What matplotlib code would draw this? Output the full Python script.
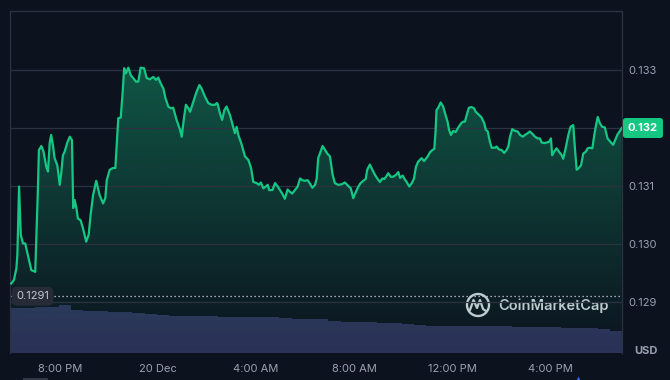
import numpy as np
import matplotlib
matplotlib.use("Agg")
import matplotlib.pyplot as plt
import matplotlib.transforms as mtransforms
from matplotlib.patches import Circle

plt.rcParams['font.family'] = ['Inter', 'DejaVu Sans']

# price trace, time in hours from 19 Dec 00:00
times = [18.01, 18.12, 18.22, 18.26, 18.33, 18.40, 18.49, 18.58, 18.69, 18.83, 18.99, 19.10, 19.14, 19.24, 19.33,
         19.44, 19.51, 19.58, 19.64, 19.71, 19.78, 19.89, 19.99, 20.05, 20.12, 20.19, 20.30, 20.40, 20.49, 20.54,
         20.60, 20.67, 20.73, 20.84, 20.94, 21.07, 21.17, 21.25, 21.35, 21.48, 21.62, 21.76, 21.85, 21.91, 22.03,
         22.16, 22.26, 22.29, 22.38, 22.48, 22.56, 22.62, 22.69, 22.79, 22.89, 22.99, 23.10, 23.20, 23.29, 23.43,
         23.54, 23.67, 23.81, 23.92, 24.01, 24.11, 24.22, 24.31, 24.42, 24.52, 24.62, 24.76, 24.90, 24.97, 25.06,
         25.14, 25.24, 25.31, 25.44, 25.58, 25.69, 25.78, 25.92, 26.05, 26.19, 26.33, 26.40, 26.44, 26.53, 26.62,
         26.71, 26.80, 26.94, 27.03, 27.14, 27.21, 27.28, 27.42, 27.55, 27.69, 27.80, 27.89, 28.03, 28.12, 28.20,
         28.30, 28.40, 28.48, 28.54, 28.67, 28.78, 28.89, 28.98, 29.07, 29.18, 29.29, 29.39, 29.48, 29.59, 29.70,
         29.80, 29.89, 30.00, 30.11, 30.19, 30.30, 30.41, 30.48, 30.54, 30.72, 30.82, 30.91, 31.02, 31.13, 31.22,
         31.36, 31.50, 31.63, 31.77, 31.87, 31.97, 32.08, 32.18, 32.27, 32.38, 32.48, 32.54, 32.65, 32.75, 32.86,
         32.95, 33.06, 33.16, 33.24, 33.31, 33.40, 33.50, 33.60, 33.71, 33.81, 33.88, 33.99, 34.05, 34.15, 34.26,
         34.36, 34.45, 34.53, 34.62, 34.76, 34.86, 35.01, 35.10, 35.20, 35.28, 35.33, 35.37, 35.44, 35.54, 35.64,
         35.74, 35.82, 35.88, 35.96, 36.05, 36.15, 36.26, 36.37, 36.46, 36.53, 36.60, 36.69, 36.80, 36.90, 36.97,
         37.07, 37.21, 37.32, 37.38, 37.46, 37.55, 37.62, 37.76, 37.82, 37.92, 38.03, 38.13, 38.23, 38.30, 38.37,
         38.46, 38.57, 38.68, 38.78, 38.89, 38.98, 39.09, 39.18, 39.28, 39.39, 39.50, 39.59, 39.66, 39.77, 39.87,
         39.96, 40.04, 40.09, 40.17, 40.27, 40.37, 40.48, 40.54, 40.64, 40.75, 40.84, 40.95, 41.02, 41.09, 41.18,
         41.27, 41.36, 41.46, 41.54, 41.63, 41.73, 41.81, 41.88, 41.95, 42.04, 42.13, 42.24, 42.35, 42.49, 42.58,
         42.65, 42.76, 42.86, 42.93]

prices = [0.12932, 0.12938, 0.12958, 0.12981, 0.13099, 0.13016, 0.13001, 0.13001, 0.12981, 0.12955, 0.12952,
          0.13097, 0.13162, 0.13169, 0.13159, 0.13133, 0.13125, 0.13174, 0.13188, 0.13171, 0.13148, 0.13136,
          0.13102, 0.13122, 0.13153, 0.13159, 0.13175, 0.13185, 0.13179, 0.13062, 0.13076, 0.13062, 0.13044,
          0.13041, 0.13027, 0.13004, 0.13016, 0.13050, 0.13084, 0.13109, 0.13084, 0.13070, 0.13079, 0.13110,
          0.13128, 0.13131, 0.13131, 0.13153, 0.13217, 0.13218, 0.13263, 0.13303, 0.13294, 0.13304, 0.13291,
          0.13286, 0.13280, 0.13280, 0.13304, 0.13303, 0.13286, 0.13284, 0.13288, 0.13283, 0.13287, 0.13277,
          0.13268, 0.13251, 0.13237, 0.13234, 0.13235, 0.13214, 0.13197, 0.13185, 0.13217, 0.13240, 0.13234,
          0.13228, 0.13245, 0.13263, 0.13274, 0.13268, 0.13254, 0.13243, 0.13240, 0.13240, 0.13243, 0.13241,
          0.13225, 0.13214, 0.13231, 0.13237, 0.13222, 0.13208, 0.13191, 0.13202, 0.13188, 0.13171, 0.13151,
          0.13145, 0.13131, 0.13107, 0.13105, 0.13102, 0.13106, 0.13096, 0.13099, 0.13102, 0.13093, 0.13093,
          0.13105, 0.13099, 0.13093, 0.13087, 0.13078, 0.13094, 0.13090, 0.13087, 0.13093, 0.13099, 0.13113,
          0.13110, 0.13109, 0.13110, 0.13105, 0.13097, 0.13102, 0.13113, 0.13148, 0.13169, 0.13162, 0.13156,
          0.13151, 0.13119, 0.13105, 0.13102, 0.13103, 0.13106, 0.13100, 0.13096, 0.13079, 0.13090, 0.13099,
          0.13105, 0.13109, 0.13112, 0.13128, 0.13137, 0.13128, 0.13119, 0.13113, 0.13107, 0.13113, 0.13112,
          0.13116, 0.13122, 0.13116, 0.13116, 0.13119, 0.13124, 0.13114, 0.13118, 0.13113, 0.13107, 0.13099,
          0.13105, 0.13113, 0.13133, 0.13142, 0.13148, 0.13143, 0.13151, 0.13158, 0.13162, 0.13164, 0.13194,
          0.13231, 0.13235, 0.13244, 0.13237, 0.13222, 0.13211, 0.13197, 0.13188, 0.13195, 0.13193, 0.13201,
          0.13208, 0.13211, 0.13211, 0.13222, 0.13235, 0.13236, 0.13234, 0.13228, 0.13224, 0.13218, 0.13208,
          0.13197, 0.13194, 0.13176, 0.13166, 0.13166, 0.13168, 0.13163, 0.13162, 0.13157, 0.13162, 0.13168,
          0.13185, 0.13198, 0.13195, 0.13194, 0.13188, 0.13185, 0.13188, 0.13191, 0.13194, 0.13190, 0.13185,
          0.13182, 0.13182, 0.13175, 0.13174, 0.13175, 0.13176, 0.13182, 0.13153, 0.13159, 0.13165, 0.13159,
          0.13153, 0.13147, 0.13165, 0.13188, 0.13202, 0.13205, 0.13165, 0.13128, 0.13131, 0.13136, 0.13156,
          0.13159, 0.13165, 0.13166, 0.13165, 0.13188, 0.13205, 0.13219, 0.13208, 0.13202, 0.13201, 0.13182,
          0.13175, 0.13171, 0.13178, 0.13189, 0.13195, 0.13200]

# volume bars, one per half hour (relative units)
volume = [45.6, 45.8, 46.0, 46.5, 48.0, 43.2, 42.8, 42.4, 41.8, 41.0, 40.0, 39.2, 38.4, 37.6, 37.5, 37.3, 37.0,
          36.8, 36.4, 36.3, 36.3, 36.2, 35.2, 34.8, 34.3, 34.0, 32.6, 31.8, 31.4, 31.0, 30.6, 30.2, 29.4, 28.2,
          27.6, 27.5, 27.4, 27.3, 27.2, 27.1, 27.0, 26.8, 26.6, 26.3, 26.0, 25.7, 25.5, 25.2, 24.0, 22.2]

tick_hours = [20, 24, 28, 32, 36, 40]
tick_labels = ['8:00 PM', '20 Dec', '4:00 AM', '8:00 AM', '12:00 PM', '4:00 PM']
price_ticks = [0.129, 0.130, 0.131, 0.132, 0.133]
open_price = 0.1291
last_price = 0.132

BG = '#0c131f'
GRID = '#2c3240'
GREEN = '#16c784'
TXT = '#9ba1b2'

fig = plt.figure(figsize=(6.7, 3.8), dpi=100, facecolor=BG)
ax = fig.add_axes([0.01493, 0.07026, 0.9134, 0.90079])
ax2 = ax.twinx()
ax.set_zorder(ax2.get_zorder() + 1)
ax.patch.set_visible(False)
ax2.patch.set_visible(False)

x0, x1 = 17.96, 42.94
y0, y1 = 0.128116, 0.134017
ax.set_xlim(x0, x1)
ax.set_ylim(y0, y1)

# volume
vol_start = x0 + 0.5 * np.arange(len(volume))
ax2.bar(vol_start, volume, width=0.5, align='edge', color='#2b3157', linewidth=0)
ax2.set_ylim(0, 342.3)
ax2.set_yticks([])
for s in ax2.spines.values():
    s.set_visible(False)

# gradient under line
poly = ax.fill_between(times, prices, y0, color='none', lw=0)
path = poly.get_paths()[0]
n = 256
ys = np.linspace(y0, y1, n)
alpha = np.clip(0.37 * (ys - 0.1281) / (0.133 - 0.1281), 0, 0.42)
rgba = np.zeros((n, 1, 4))
rgba[:, 0, 0] = 22 / 255
rgba[:, 0, 1] = 199 / 255
rgba[:, 0, 2] = 132 / 255
rgba[:, 0, 3] = alpha
img = ax.imshow(rgba, extent=[x0, x1, y0, y1], origin='lower', aspect='auto', zorder=1, interpolation='bilinear')
img.set_clip_path(path, transform=ax.transData)

ax.plot(times, prices, color=GREEN, lw=1.6, zorder=3, solid_joinstyle='round')

# the 0.132 tick is hidden behind the last-price tag
ax.set_yticks(price_ticks)
ax.set_yticklabels(['' if v == last_price else f'{v:.3f}' for v in price_ticks])
ax.yaxis.tick_right()
ax.grid(axis='y', color=GRID, lw=0.9)
ax.set_xticks(tick_hours)
ax.set_xticklabels(tick_labels)
ax.tick_params(axis='y', length=0, pad=4.3, labelcolor=TXT, labelsize=8)
ax.tick_params(axis='x', length=0, pad=7.5, labelcolor=TXT, labelsize=8)
for side in ['top', 'left', 'right']:
    ax.spines[side].set_color(GRID)
    ax.spines[side].set_linewidth(0.9)
ax.spines['bottom'].set_visible(False)

# open price reference
ax.axhline(open_price, color='#d0d4dc', lw=0.9, linestyle=(0, (1, 2.2)), zorder=2)
blend = mtransforms.blended_transform_factory(ax.transAxes, ax.transData)
ax.text(0.0368, open_price, f'{open_price:.4f}', transform=blend, ha='center', va='center',
        fontsize=8, color='#c3c7d0', zorder=5,
        bbox=dict(boxstyle='round,pad=0.4,rounding_size=0.5', fc='#262b37', ec='none'))

# last price tag
ax.text(1.0098, last_price, f'{last_price:.3f}', transform=blend, ha='left', va='center',
        fontsize=8, color='white', fontweight='bold', zorder=5, clip_on=False,
        bbox=dict(boxstyle='round,pad=0.45,rounding_size=0.25', fc=GREEN, ec='none'))

# overlay for watermark / unit label
ov = fig.add_axes([0, 0, 1, 1])
ov.set_xlim(0, 670)
ov.set_ylim(380, 0)
ov.axis('off')
ov.patch.set_visible(False)
ov.text(646, 351, 'USD', ha='center', va='center', fontsize=8, fontweight='bold', color=TXT)
ov.text(498, 306, 'CoinMarketCap', ha='left', va='center', fontsize=10.5, fontweight='semibold',
        color='#c9ccd4')
ov.add_patch(Circle((478, 305), 11, fill=False, ec='#c9ccd4', lw=1.7))
ov.plot([470, 473.5, 477, 480, 483, 486], [310, 300, 308, 300, 309, 311], color='#c9ccd4', lw=1.6,
        solid_joinstyle='round', solid_capstyle='round')
ov.plot([578], [381], marker='^', ms=7, color='#3861fb', mec='none', clip_on=True)
ov.plot([24, 46], [379, 379], color='#343b4a', lw=2)

fig.savefig('out.png', dpi=100, facecolor=BG)
